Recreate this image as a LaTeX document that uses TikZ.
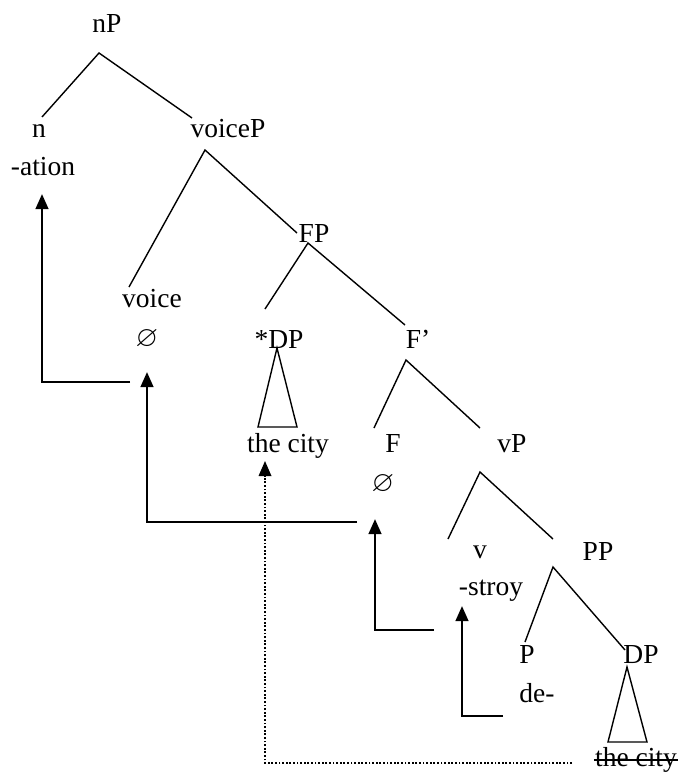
\documentclass[tikz,border=0pt]{standalone}
\usepackage{amssymb}
\usepackage{fontspec}
\setmainfont{Liberation Serif}
\usetikzlibrary{arrows.meta}
\tikzset{
  lbl/.style={anchor=base, inner sep=0pt, font=\fontsize{27.5}{33}\selectfont},
  edge/.style={line width=1.4pt},
  mv/.style={line width=2.6pt, -{Triangle[length=15pt,width=12.5pt]}},
  mvdot/.style={line width=1.8pt, dash pattern=on 1.8pt off 1.8pt, -{Triangle[length=15pt,width=12.5pt]}},
}
\begin{document}
\begin{tikzpicture}[x=1pt,y=-1pt]
\useasboundingbox (0,0) rectangle (683,773);
% labels
\node[lbl] (nP) at (107,33) {nP};
\node[lbl] (n) at (39,137) {n};
\node[lbl] (ation) at (43,175) {-ation};
\node[lbl] (voiceP) at (228,137) {voiceP};
\node[lbl] (FP) at (314,242) {FP};
\node[lbl] (voice) at (152,307) {voice};
\node[anchor=center, inner sep=0pt, font=\fontsize{29}{33}\selectfont] (nullv) at (147,339) {$\varnothing$};
\node[lbl] (sDP) at (279,348) {*DP};
\node[lbl] (city1) at (288,452) {the city};
\node[lbl] (Fbar) at (418,348) {F'};
\node[lbl] (F) at (393,452) {F};
\node[anchor=center, inner sep=0pt, font=\fontsize{29}{33}\selectfont] (nullF) at (383,484) {$\varnothing$};
\node[lbl] (vP) at (512,452) {vP};
\node[lbl] (v) at (480,558) {v};
\node[lbl] (stroy) at (491,595) {-stroy};
\node[lbl] (PP) at (598,560) {PP};
\node[lbl] (P) at (527,663) {P};
\node[lbl] (de) at (537,702) {de-};
\node[lbl] (DP) at (641,663) {DP};
\node[lbl] (city2) at (636,766) {the city};
\draw[edge] ([xshift=-1pt,yshift=6pt]city2.base west) -- ([xshift=1pt,yshift=6pt]city2.base east);
% branch points
\coordinate (nP-b) at (99,53);
\coordinate (n-t) at (42,117);
\coordinate (voiceP-t) at (192,118);
\coordinate (voiceP-b) at (205,150);
\coordinate (voice-t) at (129,287);
\coordinate (FP-t) at (297,233);
\coordinate (FP-b) at (308,243);
\coordinate (sDP-t) at (265,309);
\coordinate (Fbar-t) at (405,325);
\coordinate (sDP-b) at (277,348);
\coordinate (tri1-l) at (258,427);
\coordinate (tri1-r) at (297,427);
\coordinate (Fbar-b) at (406,360);
\coordinate (F-t) at (374,428);
\coordinate (vP-t) at (480,428);
\coordinate (vP-b) at (480,472);
\coordinate (v-t) at (448,539);
\coordinate (PP-t) at (553,539);
\coordinate (PP-b) at (553,567);
\coordinate (P-t) at (525,642);
\coordinate (DP-t) at (625,650);
\coordinate (DP-b) at (627,667);
\coordinate (tri2-l) at (608,742);
\coordinate (tri2-r) at (647,742);
% tree edges
\draw[edge] (n-t) -- (nP-b) -- (voiceP-t);
\draw[edge] (voice-t) -- (voiceP-b) -- (FP-t);
\draw[edge] (sDP-t) -- (FP-b) -- (Fbar-t);
\draw[edge] (sDP-b) -- (tri1-l) -- (tri1-r) -- cycle;
\draw[edge] (F-t) -- (Fbar-b) -- (vP-t);
\draw[edge] (v-t) -- (vP-b) -- (PP-t);
\draw[edge] (P-t) -- (PP-b) -- (DP-t);
\draw[edge] (DP-b) -- (tri2-l) -- (tri2-r) -- cycle;
% movement arrows
\coordinate (m1s) at (130,382); \coordinate (m1c) at (42,382); \coordinate (m1e) at (42,194);
\coordinate (m2s) at (357,522); \coordinate (m2c) at (147,522); \coordinate (m2e) at (147,372);
\coordinate (m3s) at (434,630); \coordinate (m3c) at (375,630); \coordinate (m3e) at (375,519);
\coordinate (m4s) at (503,716); \coordinate (m4c) at (462,716); \coordinate (m4e) at (462,606);
\coordinate (m5s) at (572,763); \coordinate (m5c) at (265,763); \coordinate (m5e) at (265,461);
\draw[mv] (m1s) -- (m1c) -- (m1e);
\draw[mv] (m2s) -- (m2c) -- (m2e);
\draw[mv] (m3s) -- (m3c) -- (m3e);
\draw[mv] (m4s) -- (m4c) -- (m4e);
\draw[mvdot] (m5s) -- (m5c) -- (m5e);
\end{tikzpicture}
\end{document}
